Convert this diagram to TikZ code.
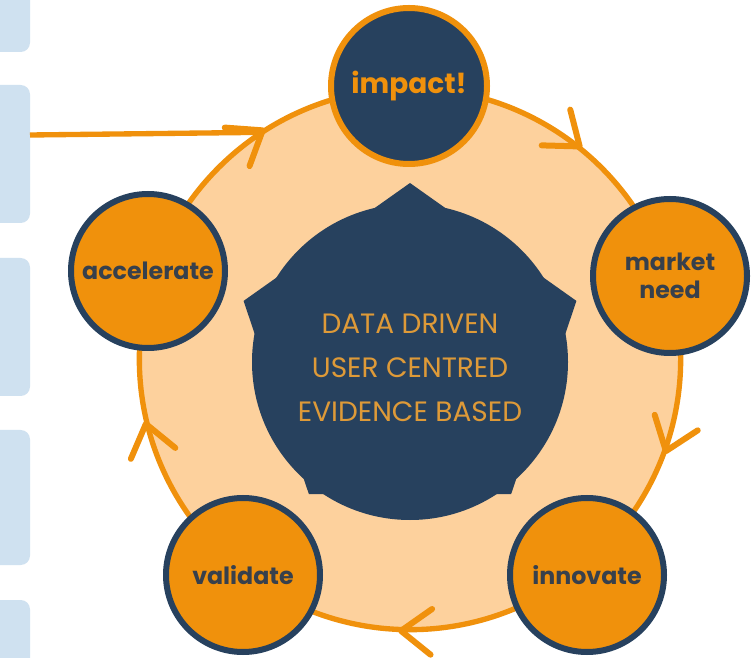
\documentclass[tikz,border=0pt]{standalone}
\usepackage{fontspec}
\setmainfont{Poppins}
\usetikzlibrary{calc}
\definecolor{navy}{HTML}{27415E}
\definecolor{orng}{HTML}{F0910C}
\definecolor{peach}{HTML}{FDD19D}
\definecolor{paleblue}{HTML}{CFE1F0}
\definecolor{labeltext}{HTML}{37404C}
\definecolor{centertext}{HTML}{DE9A38}
\tikzset{
  stepcirc/.style={circle, inner sep=0pt, minimum size=115.5pt, line width=4.5pt, draw=navy, fill=orng,
    text=labeltext, font=\bfseries\fontsize{17.8}{21}\selectfont, align=center},
  chevst/.style={draw=orng, line width=4.5pt, line cap=round, line join=round},
  sidebox/.style={fill=paleblue, rounded corners=7pt}
}
\newcommand\chev[1]{\draw[chevst] ($(ring.center)+(#1:272)$) ++(#1+90+37:38) -- ($(ring.center)+(#1:272)$) -- ++(#1+90-37:38);}
\begin{document}
\begin{tikzpicture}[x=0.75pt,y=0.75pt]
\useasboundingbox (0,0) rectangle (756,657);
\fill[white] (0,0) rectangle (756,657);
% side boxes
\begin{scope}
\clip (0,0) rectangle (756,657);
\fill[sidebox] (-20,605) rectangle (30,680);
\fill[sidebox] (-20,434) rectangle (30,572);
\fill[sidebox] (-20,261) rectangle (30,399);
\fill[sidebox] (-20,92) rectangle (30,227);
\fill[sidebox] (-20,-20) rectangle (30,57);
\end{scope}
% ring
\node[circle, inner sep=0pt, minimum size=406pt, line width=4pt, draw=orng, fill=peach] (ring) at (410,298) {};
\coordinate (feed) at (30,522);
\draw[orng, line width=4pt] (feed) -- (ring.124.2);
% chevrons
\chev{122.8}
\chev{51.4}
\chev{-19.8}
\chev{-91.9}
\chev{-166.2}
% central blob
\coordinate (pc) at (410,302);
\fill[navy] (410,295) circle (158);
\fill[navy] ($(pc)+(90:172)$) -- ($(pc)+(162:175)$) -- ($(pc)+(234:172)$) -- ($(pc)+(306:172)$) -- ($(pc)+(18:175)$) -- cycle;
\node[text=centertext, font=\fontsize{21}{33}\selectfont, align=center] (core) at (410,289) {DATA DRIVEN\\USER CENTRED\\EVIDENCE BASED};
% step circles
\node[stepcirc, draw=orng, fill=navy, text=orng, minimum size=117pt, font=\bfseries\fontsize{21}{24}\selectfont] (impact) at (409,571) {impact!};
\node[stepcirc] (mkt) at (670,381) {market\\need};
\node[stepcirc] (inno) at (587,82) {innovate};
\node[stepcirc] (vali) at (243,82) {validate};
\node[stepcirc] (acc) at (148,386) {accelerate};
\end{tikzpicture}
\end{document}
